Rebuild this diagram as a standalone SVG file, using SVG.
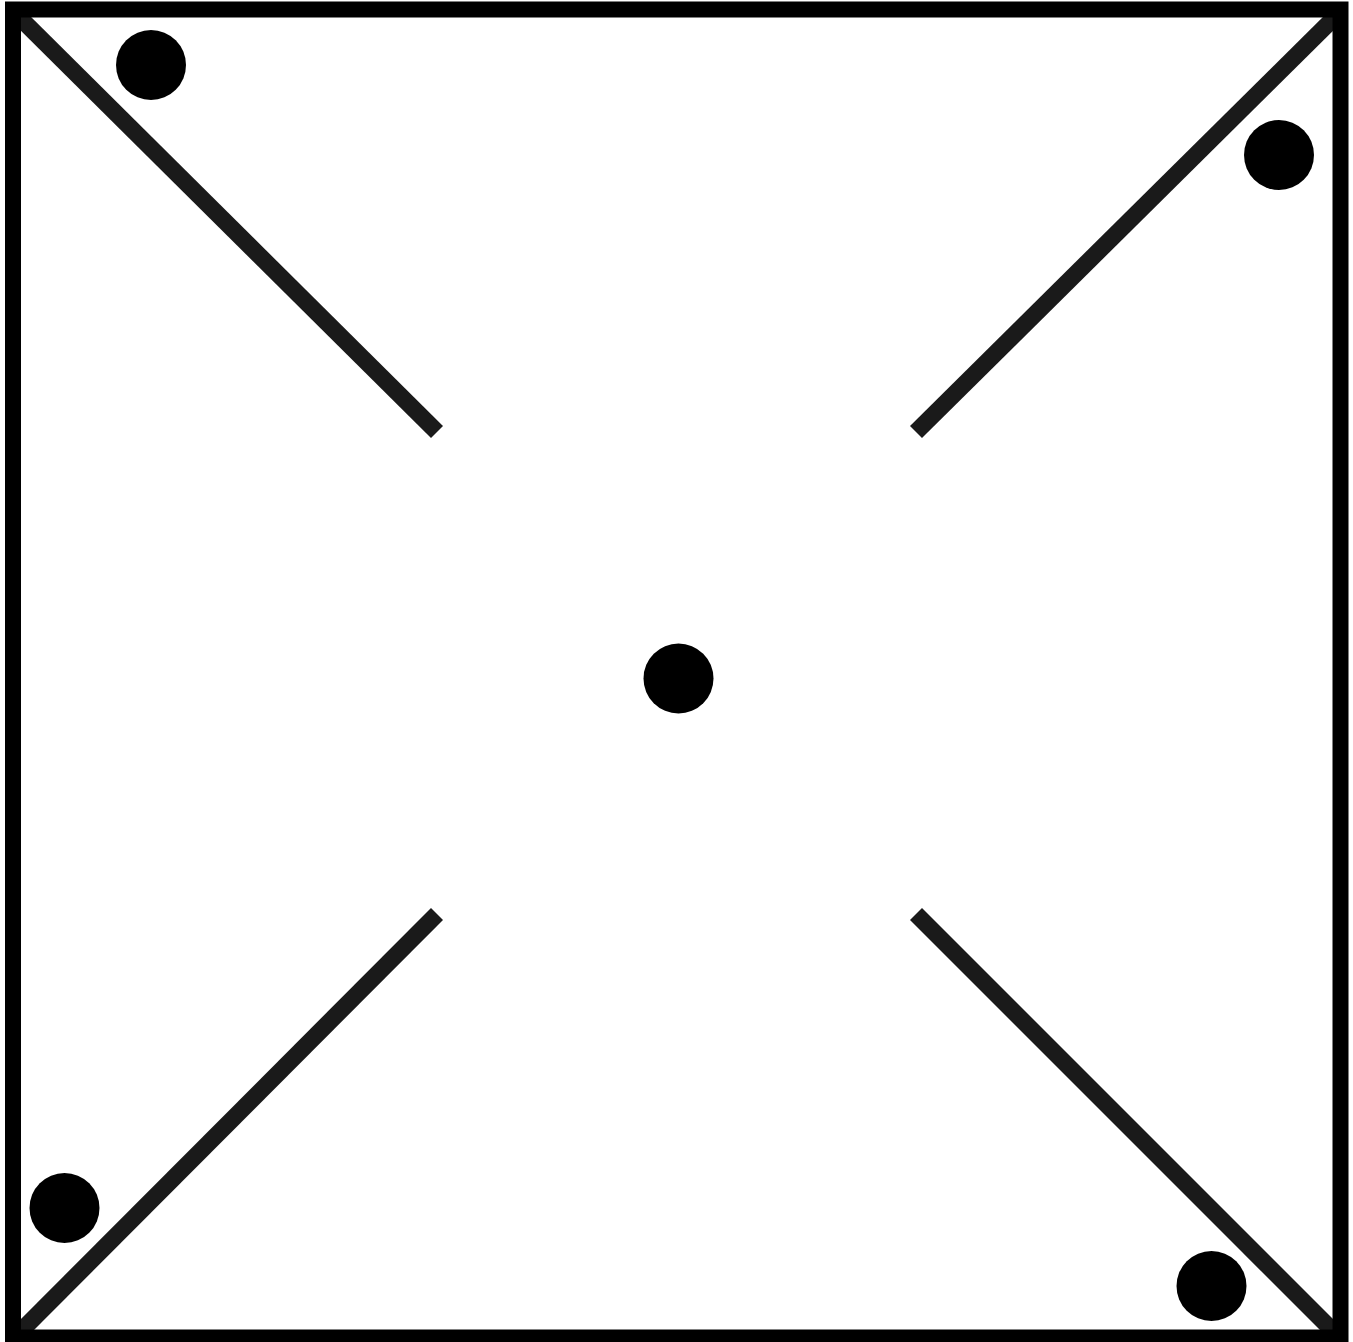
<svg xmlns="http://www.w3.org/2000/svg" width="1353" height="1342" viewBox="0 0 1353 1342">
<style>
.arm{stroke:#1a1a1a;stroke-width:17;stroke-linecap:butt;fill:none}
.dot{fill:#000}
</style>
<rect x="0" y="0" width="1353" height="1342" fill="#fff"/>
<g id="connectors">
<line class="arm" x1="14" y1="12" x2="437" y2="432"/>
<line class="arm" x1="1340" y1="12" x2="916" y2="432"/>
<line class="arm" x1="14" y1="1338" x2="437" y2="914"/>
<line class="arm" x1="1340" y1="1338" x2="916" y2="914"/>
</g>
<g id="frame"><rect x="13" y="9.5" width="1327.5" height="1328" fill="none" stroke="#000" stroke-width="16"/></g>
<g id="dot-tl"><circle class="dot" cx="151" cy="65" r="35"/></g>
<g id="dot-tr"><circle class="dot" cx="1279" cy="155" r="35"/></g>
<g id="dot-bl"><circle class="dot" cx="64.5" cy="1208" r="35"/></g>
<g id="dot-br"><circle class="dot" cx="1211.5" cy="1286" r="35"/></g>
<g id="dot-center"><circle class="dot" cx="678.5" cy="678.5" r="35"/></g>
</svg>
